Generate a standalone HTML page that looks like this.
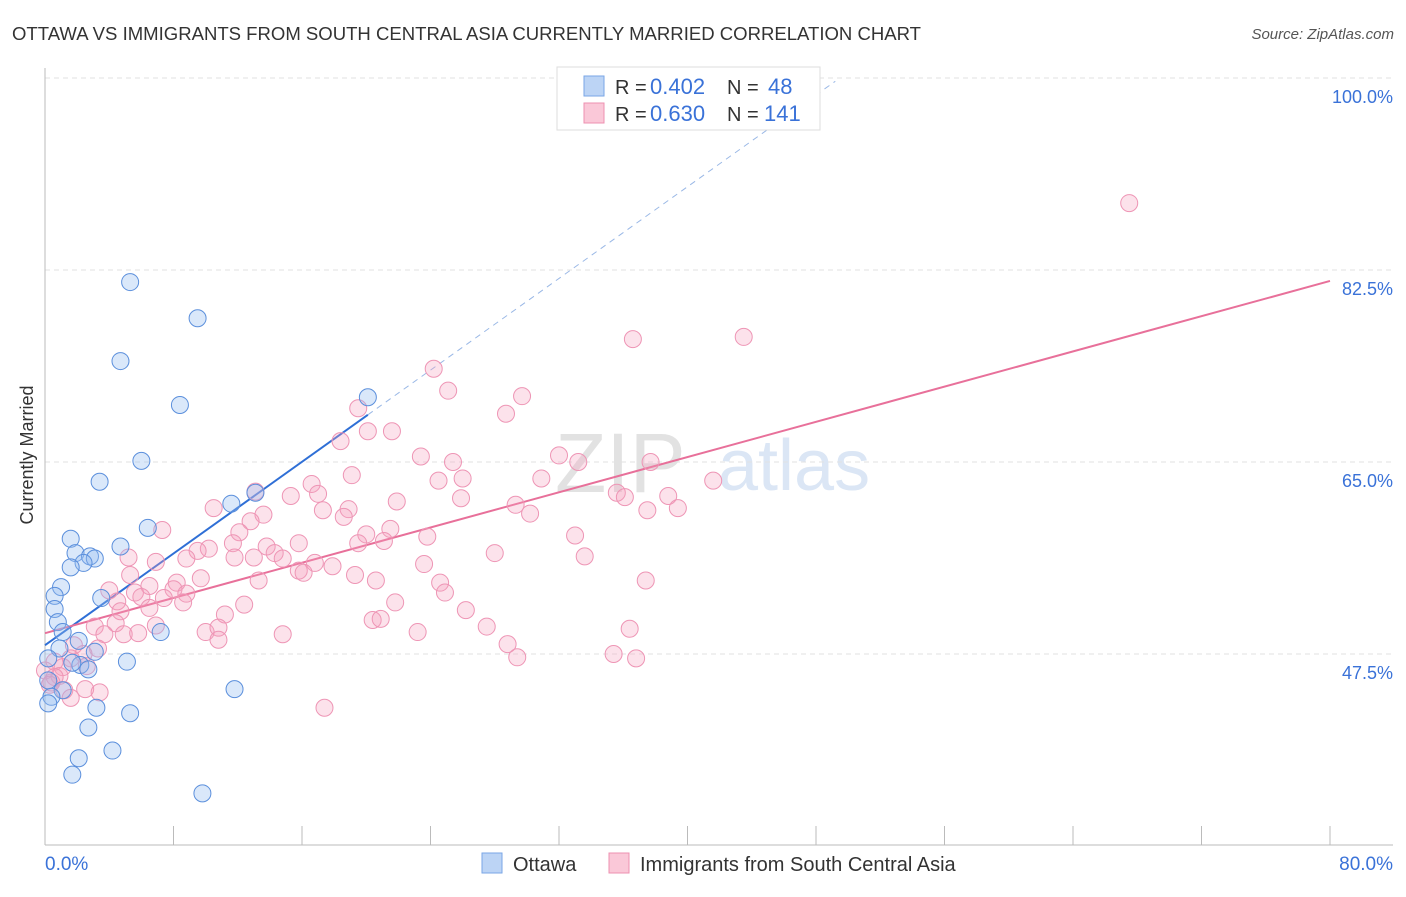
<!DOCTYPE html>
<html><head><meta charset="utf-8"><style>
body{margin:0;background:#fff;font-family:"Liberation Sans",sans-serif;}
svg text{font-family:"Liberation Sans",sans-serif;}
</style></head><body>
<svg id="chart" width="1406" height="892">
<text x="12" y="40" font-size="18" fill="#333" textLength="909" lengthAdjust="spacingAndGlyphs">OTTAWA VS IMMIGRANTS FROM SOUTH CENTRAL ASIA CURRENTLY MARRIED CORRELATION CHART</text>
<text x="1394" y="39" font-size="15" fill="#555" text-anchor="end" font-style="italic">Source: ZipAtlas.com</text>
<text x="33" y="455" font-size="18" fill="#333" text-anchor="middle" transform="rotate(-90 33 455)">Currently Married</text>
<g><text x="555" y="492" font-size="84" fill="#e2e2e2" font-family="Liberation Serif">ZIP</text><text x="718" y="490" font-size="72" fill="#dbe6f5">atlas</text></g>
<g id="grid"></g><g id="axes"></g><g id="lines"></g><g id="pts"></g>
<g>
<rect x="557" y="67" width="263" height="63" fill="#fff" stroke="#ddd"/>
<rect x="584" y="76" width="20" height="20" fill="#bcd4f5" stroke="#7aa6e6"/>
<text x="615" y="94" font-size="20" fill="#333">R =</text><text x="650" y="94" font-size="22" fill="#3a72d8">0.402</text><text x="727" y="94" font-size="20" fill="#333">N =</text><text x="768" y="94" font-size="22" fill="#3a72d8">48</text>
<rect x="584" y="103" width="20" height="20" fill="#fac8d8" stroke="#ee90b0"/>
<text x="615" y="121" font-size="20" fill="#333">R =</text><text x="650" y="121" font-size="22" fill="#3a72d8">0.630</text><text x="727" y="121" font-size="20" fill="#333">N =</text><text x="764" y="121" font-size="22" fill="#3a72d8">141</text>
</g>
<g>
<rect x="482" y="853" width="20" height="20" fill="#bcd4f5" stroke="#7aa6e6"/>
<text x="513" y="871" font-size="20" fill="#333">Ottawa</text>
<rect x="609" y="853" width="20" height="20" fill="#fac8d8" stroke="#ee90b0"/>
<text x="640" y="871" font-size="20" fill="#333">Immigrants from South Central Asia</text>
</g>
</svg>
<script>
const yTicks=[47.5,65.0,82.5,100.0];
const xTickLabels=["0.0%","80.0%"];
const blueX=[5.3,9.5,4.7,8.4,20.1,6.0,3.4,13.1,11.6,6.4,1.6,4.7,1.9,2.8,3.1,2.4,1.6,1.0,0.6,3.5,0.6,0.8,1.1,7.2,2.1,0.9,0.2,5.1,3.1,2.2,2.7,1.7,0.2,11.8,1.1,0.4,0.2,3.2,5.3,2.7,4.2,2.1,1.7,9.8];
const blueY=[81.4,78.1,74.2,70.2,70.9,65.1,63.2,62.2,61.2,59.0,58.0,57.3,56.7,56.4,56.2,55.8,55.4,53.6,52.8,52.6,51.6,50.4,49.5,49.5,48.7,48.0,47.1,46.8,47.7,46.5,46.1,46.7,45.1,44.3,44.2,43.6,43.0,42.6,42.1,40.8,38.7,38.0,36.5,34.8];
const pinkX=[67.5,36.6,43.5,24.2,25.1,29.7,19.5,28.7,20.1,21.6,18.4,32.0,23.4,25.4,33.2,37.7,19.1,24.5,26.0,30.9,41.6,16.6,13.1,15.3,17.0,35.6,38.8,21.9,25.9,10.5,17.3,18.9,29.3,30.2,36.1,37.5,39.4,13.6,18.6,12.8,12.1,21.5,7.3,20.0,21.1,23.8,19.5,11.7,33.0,10.2,15.8,5.2,6.9,9.5,8.8,13.8,13.0,14.3,11.8,14.8,28.0,33.6,16.8,15.8,17.9,23.6,16.1,13.3,19.3,20.6,5.3,9.7,6.5,8.2,4.0,8.0,5.6,24.6,37.4,24.9,8.8,6.0,4.5,8.6,7.4,6.5,12.4,21.8,4.7,11.2,26.2,20.4,20.9,4.4,6.9,3.1,27.5,36.4,10.0,10.8,3.7,4.9,14.8,23.2,5.8,10.8,28.8,1.8,3.3,29.4,35.4,36.8,2.4,1.6,0.6,1.1,2.6,0.0,0.9,0.4,1.2,2.5,3.4,1.6,17.4,0.6,0.3];
const pinkY=[88.6,76.2,76.4,73.5,71.5,71.0,69.9,69.4,67.8,67.8,66.9,65.6,65.5,65.0,65.0,65.0,63.8,63.3,63.5,63.5,63.3,63.0,62.3,61.9,62.1,62.2,61.9,61.4,61.7,60.8,60.6,60.7,61.1,60.3,61.8,60.6,60.8,60.2,60.0,59.6,58.6,58.9,58.8,58.4,57.8,58.2,57.6,57.6,58.3,57.1,57.6,56.3,55.9,56.9,56.2,57.3,56.3,56.7,56.3,56.2,56.7,56.4,55.8,55.1,55.5,55.7,54.9,54.2,54.7,54.2,54.7,54.4,53.7,54.0,53.3,53.4,53.1,54.0,54.2,53.1,53.0,52.7,52.3,52.2,52.6,51.7,52.0,52.2,51.4,51.1,51.5,50.6,50.7,50.3,50.1,50.0,50.0,49.8,49.5,49.9,49.3,49.3,49.3,49.5,49.4,48.8,48.4,48.3,48.0,47.2,47.5,47.1,47.5,47.1,46.8,46.3,46.4,46.0,45.5,44.9,44.2,44.3,44.0,43.5,42.6,45.4,44.7];
const blueTrend=[[0,48.3],[20.1,69.3],[49.2,99.7]];
const pinkTrend=[[0,49.4],[80,81.5]];
const X0=45,X1=1330,Y100=78,PX=192/17.5;
const sx=v=>X0+(X1-X0)*v/80, sy=v=>Y100+(100-v)*PX;
const NS="http://www.w3.org/2000/svg";
function mk(p,t,a){const e=document.createElementNS(NS,t);for(const k in a)e.setAttribute(k,a[k]);p.appendChild(e);return e;}
const grid=document.getElementById('grid'),axes=document.getElementById('axes'),lines=document.getElementById('lines'),pts=document.getElementById('pts');
yTicks.forEach(t=>{const l=mk(grid,'line',{x1:X0,x2:1393,y1:sy(t),y2:sy(t),stroke:'#e2e2e2','stroke-dasharray':'5,4'});


const tx=mk(grid,'text',{x:1393,y:sy(t)+25,'font-size':18,fill:'#3a72d8','text-anchor':'end'});tx.textContent=t.toFixed(1)+'%';

});
mk(axes,'line',{x1:X0,x2:X0,y1:68,y2:845,stroke:'#bbb'});
mk(axes,'line',{x1:X0,x2:1393,y1:845,y2:845,stroke:'#bbb'});
for(let i=0;i<=10;i++){const x=sx(i*8);mk(axes,'line',{x1:x,x2:x,y1:826,y2:845,stroke:'#bbb'});}
[[0,'start',45],[80,'end',1393]].forEach((d,i)=>{const t=mk(axes,'text',{x:d[2],y:870,'font-size':19,fill:'#3a72d8','text-anchor':d[1]});t.textContent=xTickLabels[i];

});
const bl=mk(lines,'line',{x1:sx(blueTrend[0][0]),y1:sy(blueTrend[0][1]),x2:sx(blueTrend[1][0]),y2:sy(blueTrend[1][1]),stroke:'#2f6fd6','stroke-width':2});


const bd=mk(lines,'line',{x1:sx(blueTrend[1][0]),y1:sy(blueTrend[1][1]),x2:sx(blueTrend[2][0]),y2:sy(blueTrend[2][1]),stroke:'#9ab8e6','stroke-width':1,'stroke-dasharray':'6,5'});


const pl=mk(lines,'line',{x1:sx(pinkTrend[0][0]),y1:sy(pinkTrend[0][1]),x2:sx(pinkTrend[1][0]),y2:sy(pinkTrend[1][1]),stroke:'#e8709a','stroke-width':2});


pinkX.forEach((v,i)=>{const c=mk(pts,'circle',{cx:sx(v),cy:sy(pinkY[i]),r:8.5,fill:'rgba(244,160,190,0.3)',stroke:'#ee95b5','stroke-width':1});

});
blueX.forEach((v,i)=>{const c=mk(pts,'circle',{cx:sx(v),cy:sy(blueY[i]),r:8.5,fill:'rgba(150,190,240,0.35)',stroke:'#5b8fdc','stroke-width':1});

});
</script>
</body></html>
